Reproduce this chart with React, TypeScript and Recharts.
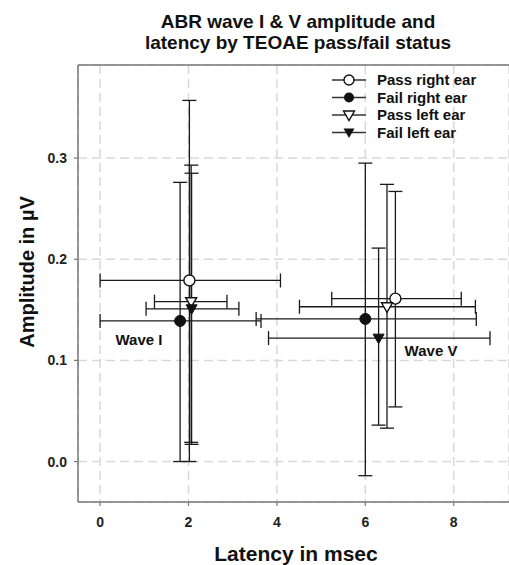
import React from 'react';
import { ScatterChart, Scatter, XAxis, YAxis, CartesianGrid, ErrorBar } from 'recharts';

const waves = ['Wave I', 'Wave V'];

const passRightLatency = [2.02, 6.68];
const passRightLatencyLow = [0.0, 5.24];
const passRightLatencyHigh = [4.08, 8.17];
const passRightAmplitude = [0.179, 0.161];
const passRightAmplitudeLow = [0.0, 0.054];
const passRightAmplitudeHigh = [0.357, 0.267];

const failRightLatency = [1.81, 6.0];
const failRightLatencyLow = [0.0, 3.53];
const failRightLatencyHigh = [3.64, 8.51];
const failRightAmplitude = [0.139, 0.141];
const failRightAmplitudeLow = [0.0, -0.014];
const failRightAmplitudeHigh = [0.276, 0.295];

const passLeftLatency = [2.06, 6.49];
const passLeftLatencyLow = [1.23, 4.51];
const passLeftLatencyHigh = [2.87, 8.49];
const passLeftAmplitude = [0.158, 0.153];
const passLeftAmplitudeLow = [0.019, 0.033];
const passLeftAmplitudeHigh = [0.293, 0.274];

const failLeftLatency = [2.07, 6.3];
const failLeftLatencyLow = [1.04, 3.81];
const failLeftLatencyHigh = [3.14, 8.82];
const failLeftAmplitude = [0.151, 0.122];
const failLeftAmplitudeLow = [0.017, 0.036];
const failLeftAmplitudeHigh = [0.285, 0.211];

const xTicks = [0, 2, 4, 6, 8];
const yTicks = [0, 0.1, 0.2, 0.3];
const legendLabels = ['Pass right ear', 'Fail right ear', 'Pass left ear', 'Fail left ear'];
const titleLines = ['ABR wave I & V amplitude and', 'latency by TEOAE pass/fail status'];

function build(lat: number[], latLo: number[], latHi: number[], amp: number[], ampLo: number[], ampHi: number[]) {
  return waves.map((w, i) => ({
    wave: w,
    x: lat[i],
    y: amp[i],
    ex: [lat[i] - latLo[i], latHi[i] - lat[i]],
    ey: [amp[i] - ampLo[i], ampHi[i] - amp[i]],
  }));
}

const passRight = build(passRightLatency, passRightLatencyLow, passRightLatencyHigh, passRightAmplitude, passRightAmplitudeLow, passRightAmplitudeHigh);
const failRight = build(failRightLatency, failRightLatencyLow, failRightLatencyHigh, failRightAmplitude, failRightAmplitudeLow, failRightAmplitudeHigh);
const passLeft = build(passLeftLatency, passLeftLatencyLow, passLeftLatencyHigh, passLeftAmplitude, passLeftAmplitudeLow, passLeftAmplitudeHigh);
const failLeft = build(failLeftLatency, failLeftLatencyLow, failLeftLatencyHigh, failLeftAmplitude, failLeftAmplitudeLow, failLeftAmplitudeHigh);

const INK = '#111';
const FONT = '"Liberation Sans", Arial, Helvetica, sans-serif';

const OpenCircle = (p: any) => <circle cx={p.cx} cy={p.cy} r={5.5} fill="#fff" stroke={INK} strokeWidth={1.4} />;
const FilledCircle = (p: any) => <circle cx={p.cx} cy={p.cy} r={5.5} fill={INK} stroke={INK} strokeWidth={1} />;
const triPath = (cx: number, cy: number) => `M${cx - 5.5},${cy - 4} L${cx + 5.5},${cy - 4} L${cx},${cy + 5.5} Z`;
const OpenTri = (p: any) => <path d={triPath(p.cx, p.cy)} fill="#fff" stroke={INK} strokeWidth={1.4} />;
const FilledTri = (p: any) => <path d={triPath(p.cx, p.cy)} fill={INK} stroke={INK} strokeWidth={1} />;

const legendMarkers = [
  (cx: number, cy: number) => <circle cx={cx} cy={cy} r={5} fill="#fff" stroke={INK} strokeWidth={1.4} />,
  (cx: number, cy: number) => <circle cx={cx} cy={cy} r={5} fill={INK} />,
  (cx: number, cy: number) => <path d={triPath(cx, cy)} fill="#fff" stroke={INK} strokeWidth={1.4} />,
  (cx: number, cy: number) => <path d={triPath(cx, cy)} fill={INK} />,
];

const barProps = { stroke: '#1a1a1a', strokeWidth: 1.3, width: 7, isAnimationActive: false } as any;

export default function App() {
  return (
    <div style={{ position: 'relative', width: 509, height: 565, fontFamily: FONT }}>
      <style>{'body{margin:0;overflow:hidden}'}</style>
      <ScatterChart width={509} height={565} margin={{ top: 65, right: 0, bottom: 0, left: 0 }}>
        <CartesianGrid stroke="#d9d9d9" strokeWidth={1.5} strokeDasharray="9 5" />
        <XAxis
          type="number"
          dataKey="x"
          domain={[-0.5, 9.25]}
          ticks={xTicks}
          allowDataOverflow
          height={63}
          axisLine={{ stroke: '#777', strokeWidth: 1.5 }}
          tickLine={{ stroke: '#777', strokeWidth: 1.2 }}
          tickSize={4}
          tickMargin={11}
          tick={{ fill: '#222', fontSize: 14, fontWeight: 700, fontFamily: FONT }}
        />
        <YAxis
          type="number"
          dataKey="y"
          domain={[-0.04, 0.392]}
          ticks={yTicks}
          allowDataOverflow
          width={78}
          axisLine={{ stroke: '#777', strokeWidth: 1.5 }}
          tickLine={{ stroke: '#777', strokeWidth: 1.2 }}
          tickSize={4}
          tickMargin={7}
          tickFormatter={(v: number) => v.toFixed(1)}
          tick={{ fill: '#222', fontSize: 14, fontWeight: 700, fontFamily: FONT }}
        />
        <Scatter data={passRight} shape={OpenCircle} isAnimationActive={false}>
          <ErrorBar dataKey="ex" direction="x" {...barProps} />
          <ErrorBar dataKey="ey" direction="y" {...barProps} />
        </Scatter>
        <Scatter data={failRight} shape={FilledCircle} isAnimationActive={false}>
          <ErrorBar dataKey="ex" direction="x" {...barProps} />
          <ErrorBar dataKey="ey" direction="y" {...barProps} />
        </Scatter>
        <Scatter data={passLeft} shape={OpenTri} isAnimationActive={false}>
          <ErrorBar dataKey="ex" direction="x" {...barProps} />
          <ErrorBar dataKey="ey" direction="y" {...barProps} />
        </Scatter>
        <Scatter data={failLeft} shape={FilledTri} isAnimationActive={false}>
          <ErrorBar dataKey="ex" direction="x" {...barProps} />
          <ErrorBar dataKey="ey" direction="y" {...barProps} />
        </Scatter>
      </ScatterChart>
      <svg width={509} height={565} style={{ position: 'absolute', left: 0, top: 0, pointerEvents: 'none' }}>
        <line x1={78} y1={65} x2={509} y2={65} stroke="#777" strokeWidth={1.5} />
        <g fontFamily={FONT} fontWeight={700} fill={INK}>
          <text x={298} y={28} fontSize={19} textAnchor="middle">{titleLines[0]}</text>
          <text x={298} y={49} fontSize={19} textAnchor="middle">{titleLines[1]}</text>
          <text x={296} y={560.5} fontSize={21} textAnchor="middle">Latency in msec</text>
          <text x={33.5} y={272} fontSize={20} textAnchor="middle" transform="rotate(-90 33.5 272)">Amplitude in µV</text>
          <text x={139} y={344.5} fontSize={15} textAnchor="middle">{waves[0]}</text>
          <text x={431} y={355.5} fontSize={15} textAnchor="middle">{waves[1]}</text>
          {legendLabels.map((lab, i) => {
            const y = 80 + i * 17.5;
            return (
              <g key={lab}>
                <line x1={332} y1={y} x2={366} y2={y} stroke="#333" strokeWidth={1.3} />
                {legendMarkers[i](349, y)}
                <text x={377} y={y + 5.4} fontSize={15}>{lab}</text>
              </g>
            );
          })}
        </g>
      </svg>
    </div>
  );
}
